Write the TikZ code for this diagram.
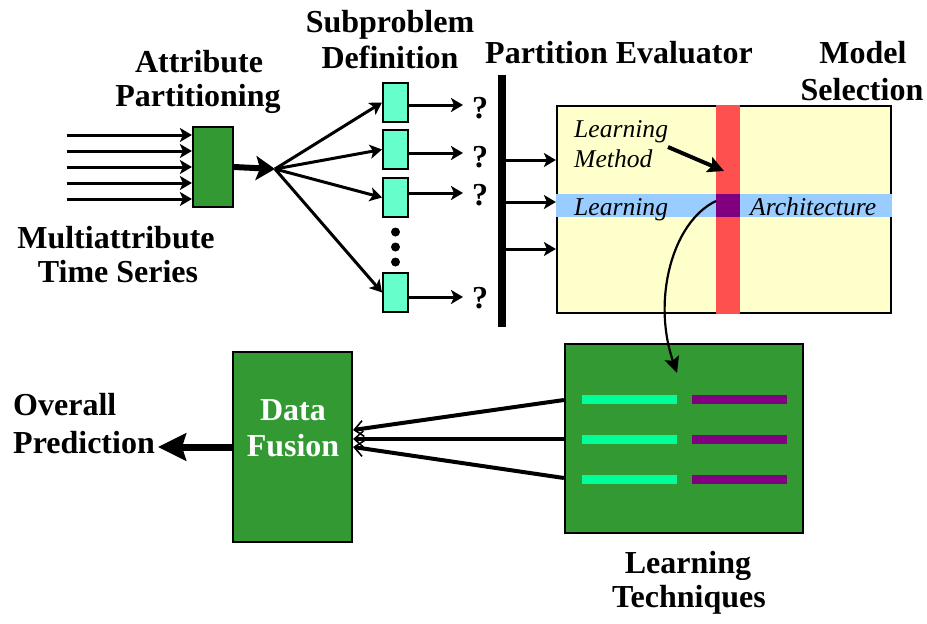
\documentclass[tikz,border=0pt]{standalone}
\usepackage{fontspec}
\setmainfont{Liberation Serif}
\usetikzlibrary{arrows.meta}

\definecolor{boxgreen}{HTML}{339933}
\definecolor{aqua}{HTML}{66FFCC}
\definecolor{paleyellow}{HTML}{FFFFCC}
\definecolor{skyblue}{HTML}{99CCFF}
\definecolor{redband}{HTML}{FF5050}
\definecolor{plum}{HTML}{800080}
\definecolor{mint}{HTML}{00FF99}

\tikzset{
  lbl/.style={font=\fontsize{32}{36}\selectfont\bfseries, inner sep=0pt, anchor=base},
  ital/.style={font=\fontsize{25.6}{30}\selectfont\itshape, inner sep=0pt, anchor=base west},
  gbox/.style={draw=black, line width=2.2pt, fill=boxgreen, inner sep=0pt},
  subbox/.style={draw=black, line width=2pt, fill=aqua, inner sep=0pt,
                 minimum width=25pt, minimum height=39pt},
  arr/.style={line width=3pt, -{Stealth[length=12pt,width=14pt,inset=3pt]}},
  fuse/.style={line width=4pt, -{Straight Barb[length=9pt,width=16pt,line width=1.6pt]}},
}

\begin{document}
\begin{tikzpicture}[x=1pt,y=-1pt]
\useasboundingbox (0,0) rectangle (927,624);

% ---- labels ----
\node[lbl] (attrA) at (199,72) {Attribute};
\node[lbl] (attrB) at (198,106) {Partitioning};
\node[lbl] (subA) at (390,32) {Subproblem};
\node[lbl] (subB) at (390,68) {Definition};
\node[lbl] (evalT) at (619,63) {Partition Evaluator};
\node[lbl] (modA) at (863,63) {Model};
\node[lbl] (modB) at (862,100) {Selection};
\node[lbl] (mtsA) at (116,248) {Multiattribute};
\node[lbl] (mtsB) at (118,282) {Time Series};
\node[lbl,anchor=base west] (outA) at (13,415) {Overall};
\node[lbl,anchor=base west] (outB) at (13,453) {Prediction};
\node[lbl] (ltA) at (688,573) {Learning};
\node[lbl] (ltB) at (689,607) {Techniques};

% ---- attribute partitioning ----
\node[gbox, minimum width=40pt, minimum height=80pt] (attr) at (213,167) {};
\foreach \i/\y in {1/135,2/151,3/167,4/183,5/199}{
  \coordinate (in\i) at (67,\y);
  \draw[arr] (in\i) -- (in\i -| attr.west);
}
\coordinate (fan) at (275,169);
\draw[line width=6pt, -{Stealth[length=19pt,width=24pt,inset=4pt]}] (attr.east) -- (fan);

% ---- subproblem boxes ----
\node[subbox] (s1) at (395.5,102.5) {};
\node[subbox] (s2) at (395.5,149.5) {};
\node[subbox] (s3) at (395.5,197.5) {};
\node[subbox] (s4) at (395.5,292.5) {};
\foreach \s in {s1,s2,s3,s4}{
  \draw[arr] (fan) -- (\s.west);
}
\foreach \y/\n in {232/d1,247/d2,262/d3}{
  \fill (395.5,\y) circle (4.5pt) coordinate (\n);
}
\foreach \s/\y/\q in {s1/105/118,s2/153/167,s3/193/205,s4/297/308}{
  \coordinate (\s o) at (463,\y);
  \draw[arr] (\s.east |- \s o) -- (\s o);
  \node[lbl] (\s q) at (480,\q) {?};
}

% ---- partition evaluator bar ----
\node[fill=black, inner sep=0pt, minimum width=8pt, minimum height=252pt] (evbar) at (502,201) {};

% ---- model selection ----
\node[draw=black, line width=2.2pt, fill=paleyellow, inner sep=0pt,
      minimum width=334pt, minimum height=207pt] (ms) at (724,209.5) {};
\fill[skyblue] (ms.west |- 0,194) rectangle (ms.east |- 0,217);
\fill[redband] (716,0 |- ms.north) rectangle (740,0 |- ms.south);
\fill[plum] (716,194) rectangle (740,217);
\coordinate (lmcorner) at (716,201);

\foreach \y in {160,202,249}{
  \draw[arr] (evbar.east |- 0,\y) -- (ms.west |- 0,\y);
}

\node[ital] (lmA) at (574,137) {Learning};
\node[ital] (lmB) at (574,167) {Method};
\node[ital] (larch) at (574,215) {Learning};
\node[ital] (archi) at (750,215) {Architecture};
\coordinate (lmtip) at (724,171);
\draw[line width=4pt, -{Stealth[length=16pt,width=16pt,inset=3pt]}] (668,147) -- (lmtip);

% ---- learning techniques ----
\node[gbox, minimum width=238pt, minimum height=189pt] (lt) at (684,438.5) {};
\foreach \y in {399.5,439.5,479.5}{
  \fill[mint] (582,\y-4.5) rectangle (677,\y+4.5);
  \fill[plum] (692,\y-4.5) rectangle (787,\y+4.5);
}
\coordinate (ltin) at (677,373);
\draw[line width=2.2pt, -{Stealth[length=16pt,width=15pt,inset=3pt]}]
  (lmcorner) .. controls (672,222) and (652,300) .. (ltin);

% ---- data fusion ----
\node[gbox, minimum width=119pt, minimum height=190pt] (df) at (292.5,447) {};
\node[lbl, text=white] (dfA) at (293,420) {Data};
\node[lbl, text=white] (dfB) at (293,456) {Fusion};

\draw[fuse] (lt.west |- 0,400) -- (df.east |- 0,430);
\draw[fuse] (lt.west |- 0,439) -- (df.east |- 0,439);
\draw[fuse] (lt.west |- 0,478) -- (df.east |- 0,447);

\coordinate (outtip) at (158,447);
\draw[line width=7pt, -{Stealth[length=28pt,width=27pt,inset=4pt]}] (df.west) -- (outtip);
\end{tikzpicture}
\end{document}
